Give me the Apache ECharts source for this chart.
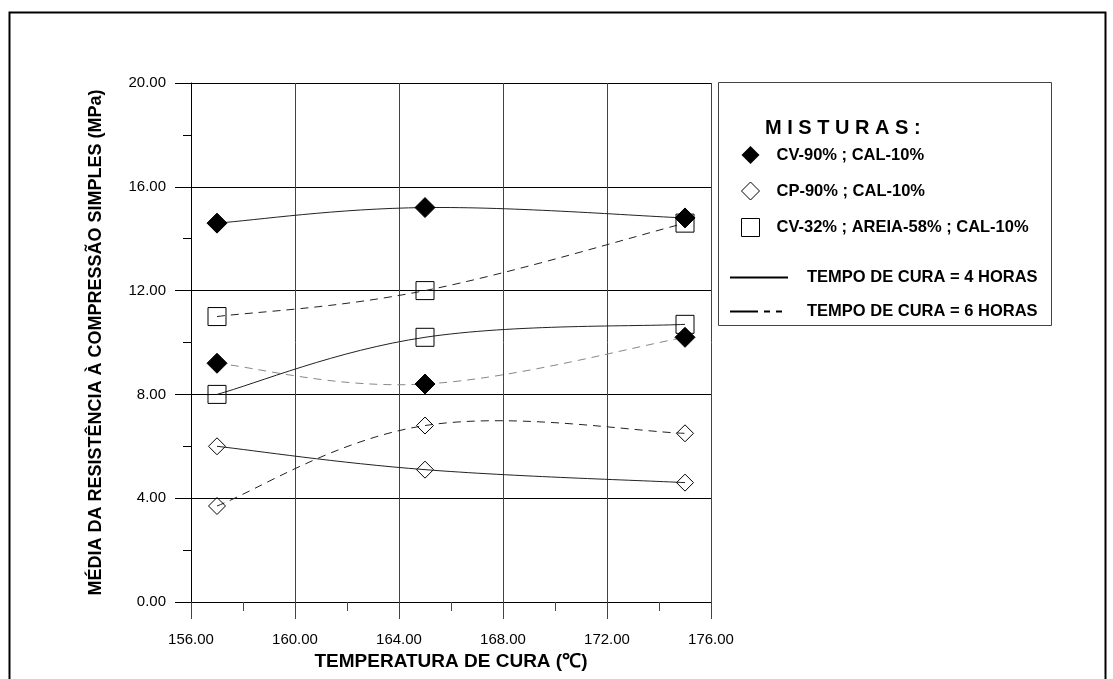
<!DOCTYPE html>
<html>
<head>
<meta charset="utf-8">
<script src="https://cdn.jsdelivr.net/npm/echarts@6/dist/echarts.min.js"></script>
<style>
html,body{margin:0;padding:0;background:#fff;}
#main{width:1113px;height:679px;}
</style>
</head>
<body>
<div id="main"></div>
<script>
// ---- data ----
var temperatures = [157, 165, 175];
var cv90_4h = [14.6, 15.2, 14.8];
var cv90_6h = [9.2, 8.4, 10.2];
var cp90_4h = [6.0, 5.1, 4.6];
var cp90_6h = [3.7, 6.8, 6.5];
var cv32_4h = [8.0, 10.2, 10.7];
var cv32_6h = [11.0, 12.0, 14.6];
var mixNames = ['CV-90% ; CAL-10%', 'CP-90% ; CAL-10%', 'CV-32% ; AREIA-58% ; CAL-10%'];
var timeNames = ['TEMPO DE CURA = 4 HORAS', 'TEMPO DE CURA = 6 HORAS'];
var xTitle = 'TEMPERATURA DE CURA (\u2103)';
var yTitle = 'MÉDIA DA RESISTÊNCIA À COMPRESSÃO SIMPLES (MPa)';
var legendTitle = 'M I S T U R A S :';

function pairs(ys){ return temperatures.map(function(t,i){ return [t, ys[i]]; }); }

var FONT = 'Liberation Sans, Arial, sans-serif';
var DASH = [8, 6];
var TENSION = 0.19;

// smoothed curve through the data points, drawn in pixel space from api.coord
function curve(ys, dashed, color){
  return {
    type: 'custom', coordinateSystem: 'cartesian2d', data: pairs(ys), silent: true, z: 2,
    renderItem: function(params, api){
      if (params.dataIndexInside !== 0) return null;
      var n = params.dataInsideLength, pts = [], i;
      for (i = 0; i < n; i++) pts.push(api.coord([api.value(0, i), api.value(1, i)]));
      var d = 'M' + pts[0][0] + ' ' + pts[0][1];
      for (i = 0; i < n - 1; i++) {
        var p0 = pts[Math.max(i - 1, 0)], p1 = pts[i], p2 = pts[i + 1], p3 = pts[Math.min(i + 2, n - 1)];
        var c1x = p1[0] + (p2[0] - p0[0]) * TENSION, c1y = p1[1] + (p2[1] - p0[1]) * TENSION;
        var c2x = p2[0] - (p3[0] - p1[0]) * TENSION, c2y = p2[1] - (p3[1] - p1[1]) * TENSION;
        d += ' C' + c1x + ' ' + c1y + ' ' + c2x + ' ' + c2y + ' ' + p2[0] + ' ' + p2[1];
      }
      return {
        type: 'path', shape: { pathData: d },
        style: { fill: 'none', stroke: color || '#222', lineWidth: 1, lineDash: dashed ? DASH : null }
      };
    }
  };
}

function marks(ys, symbol, size, fill){
  return {
    type: 'scatter', data: pairs(ys), symbol: symbol, symbolSize: size, z: 3, silent: true,
    itemStyle: { color: fill, borderColor: '#000', borderWidth: 1, opacity: 1 }
  };
}

var hidden = { color: 'rgba(0,0,0,0)', borderColor: 'rgba(0,0,0,0)', borderWidth: 0 };
var EMPTY = 'rgba(0,0,0,0)';

var chart = echarts.init(document.getElementById('main'));
var option = {
  animation: false,
  backgroundColor: '#fff',
  textStyle: { fontFamily: FONT },
  grid: { left: 191, right: 402, top: 83, bottom: 77, containLabel: false },
  xAxis: {
    type: 'value', min: 156, max: 176, interval: 4,
    axisLine: { show: true, lineStyle: { color: '#000', width: 1 } },
    axisTick: { show: true, length: 17, lineStyle: { color: '#444' } },
    minorTick: { show: true, splitNumber: 2, length: 9, lineStyle: { color: '#444' } },
    splitLine: { show: true, lineStyle: { color: '#444', width: 1 } },
    axisLabel: { margin: 30, fontSize: 15, color: '#000', fontFamily: FONT,
      formatter: function(v){ return v.toFixed(2); } },
    name: xTitle, nameLocation: 'middle', nameGap: 42,
    nameTextStyle: { fontSize: 19, fontWeight: 'bold', color: '#000', fontFamily: FONT }
  },
  yAxis: {
    type: 'value', min: 0, max: 20, interval: 4,
    axisLine: { show: true, lineStyle: { color: '#000', width: 1 } },
    axisTick: { show: true, length: 16, lineStyle: { color: '#000' } },
    minorTick: { show: true, splitNumber: 2, length: 8, lineStyle: { color: '#000' } },
    splitLine: { show: true, lineStyle: { color: '#000', width: 1 } },
    axisLabel: { margin: 25, fontSize: 15, color: '#000', fontFamily: FONT,
      formatter: function(v){ return v.toFixed(2); } },
    name: yTitle, nameLocation: 'middle', nameGap: 86,
    nameTextStyle: { fontSize: 18, fontWeight: 'bold', color: '#000', fontFamily: FONT }
  },
  legend: [
    {
      orient: 'vertical', left: 736, top: 141, itemWidth: 18, itemHeight: 18,
      itemGap: 17.5, itemTextGap: 5, selectedMode: false,
      textStyle: { fontSize: 16.5, fontWeight: 'bold', color: '#000', fontFamily: FONT, padding: [0, 0, 0, 12] },
      data: [
        { name: mixNames[0], icon: 'diamond' },
        { name: mixNames[1], icon: 'diamond', itemStyle: { color: '#fff', borderColor: '#000', borderWidth: 1 } },
        { name: mixNames[2], icon: 'rect', itemStyle: { color: '#fff', borderColor: '#000', borderWidth: 1 } }
      ]
    },
    {
      orient: 'vertical', left: 724, top: 264, itemWidth: 58, itemHeight: 14,
      itemGap: 17, itemTextGap: 5, selectedMode: false,
      textStyle: { fontSize: 16.5, fontWeight: 'bold', color: '#000', fontFamily: FONT, padding: [0, 0, 0, 14] },
      data: [
        { name: timeNames[0], itemStyle: hidden },
        { name: timeNames[1], itemStyle: hidden, lineStyle: { type: [28, 6, 6, 6, 6, 6] } }
      ]
    }
  ],
  graphic: [
    { type: 'rect', left: 7, top: 10, shape: { width: 1096, height: 700 },
      style: { fill: 'none', stroke: '#000', lineWidth: 2 }, silent: true, z: -1 },
    { type: 'rect', left: 718, top: 82, shape: { width: 333, height: 243 },
      style: { fill: '#fff', stroke: '#444', lineWidth: 1 }, silent: true, z: -1 },
    { type: 'text', left: 765, top: 118,
      style: { text: legendTitle, font: 'bold 20px ' + FONT, fill: '#000' }, silent: true }
  ],
  series: [
    curve(cv90_4h, false),
    curve(cv90_6h, true, '#888'),
    curve(cp90_4h, false),
    curve(cp90_6h, true),
    curve(cv32_4h, false),
    curve(cv32_6h, true),
    marks(cv90_4h, 'diamond', 20, '#000'),
    marks(cv90_6h, 'diamond', 20, '#000'),
    marks(cp90_4h, 'diamond', 17, EMPTY),
    marks(cp90_6h, 'diamond', 17, EMPTY),
    marks(cv32_4h, 'rect', 18, EMPTY),
    marks(cv32_6h, 'rect', 18, EMPTY),
    // legend-only entries
    { type: 'line', name: mixNames[0], data: [], itemStyle: { color: '#000' } },
    { type: 'line', name: mixNames[1], data: [], itemStyle: { color: '#fff', borderColor: '#000' } },
    { type: 'line', name: mixNames[2], data: [], itemStyle: { color: '#fff', borderColor: '#000' } },
    { type: 'line', name: timeNames[0], data: [], symbol: 'none', itemStyle: { color: '#000' },
      lineStyle: { color: '#000', width: 1, type: 'solid' } },
    { type: 'line', name: timeNames[1], data: [], symbol: 'none', itemStyle: { color: '#000' },
      lineStyle: { color: '#000', width: 1, type: DASH } }
  ]
};
chart.setOption(option);
</script>
</body>
</html>
